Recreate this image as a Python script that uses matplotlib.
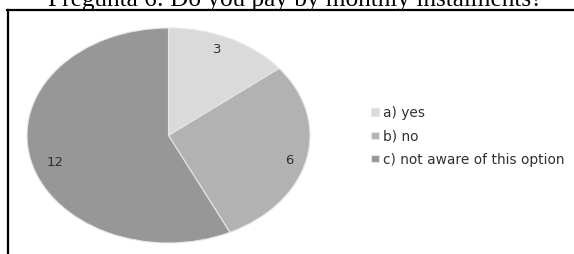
import numpy as np
import matplotlib
matplotlib.use("Agg")
import matplotlib.pyplot as plt

categories = ["a) yes", "b) no", "c) not aware of this option"]
values = [3, 6, 12]
colors = ["#dadada", "#b2b2b2", "#979797"]
title = "Pregunta 6: Do you pay by monthly instalments?"

W, H = 574, 254
fig = plt.figure(figsize=(W / 100, H / 100), dpi=100)

# pie axes (ellipse)
cx, cy, rx, ry = 168.5, 135.5, 141.5, 107.5
ax = fig.add_axes([(cx - rx) / W, (H - cy - ry) / H, 2 * rx / W, 2 * ry / H])
total = sum(values)
wedges, texts, autotexts = ax.pie(
    values, colors=colors, startangle=90, counterclock=False,
    autopct=lambda p: f"{round(p * total / 100)}", pctdistance=0.86,
    wedgeprops=dict(edgecolor="#e6e6e6", linewidth=0.8),
    textprops=dict(family="DejaVu Sans", fontsize=9.5, color="#303030"))
ax.set_aspect("auto")
ax.set_xlim(-1, 1)
ax.set_ylim(-1, 1)
ax.axis("off")

# fine-tune label placement (radius, angle shift) per slice
label_r = [0.87, 0.885, 0.84]
label_shift = [2.3, -2.3, 4.8]
for wdg, at, r, s in zip(wedges, autotexts, label_r, label_shift):
    ang = np.deg2rad((wdg.theta1 + wdg.theta2) / 2 + s)
    at.set_position((r * np.cos(ang), r * np.sin(ang)))

# legend
leg = fig.legend(wedges, categories, loc="upper left",
                 bbox_to_anchor=(371 / W, (H - 106) / H), frameon=False,
                 prop=dict(family="DejaVu Sans", size=9.9), handlelength=0.6,
                 handleheight=0.45, handletextpad=0.25, labelspacing=0.68,
                 borderaxespad=0, borderpad=0, labelcolor="#303030")

# border (top and left lines)
fig.add_artist(plt.Line2D([7 / W, 1.0], [(H - 10) / H, (H - 10) / H],
                          transform=fig.transFigure, color="black", lw=1.6))
fig.add_artist(plt.Line2D([8 / W, 8 / W], [0, (H - 9.5) / H],
                          transform=fig.transFigure, color="black", lw=1.6))

# title, partially cut at top (as in the reference)
t = fig.text(295 / W, (H - 6) / H, title, ha="center", va="baseline",
             family="Liberation Serif", fontsize=20, color="black")
fig.canvas.draw()
w = t.get_window_extent().width
t.set_fontsize(20 * 494 / w)

fig.savefig("out.png", dpi=100, facecolor="white")
